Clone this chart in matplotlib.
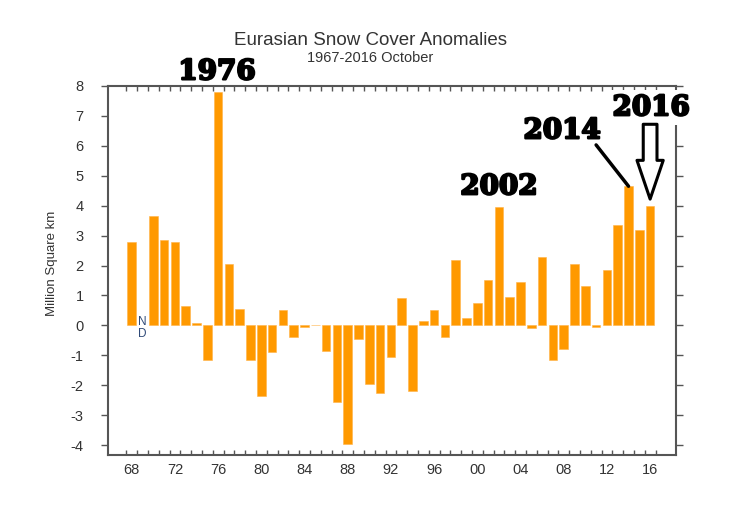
"""
Eurasian snow cover anomalies, October 1967-2016 (annotated).
"""
import matplotlib
matplotlib.use('Agg')
import matplotlib.pyplot as plt
import matplotlib.patheffects as pe
from matplotlib.ticker import FixedLocator, MultipleLocator


# October anomalies (million km^2); None = no data
years = list(range(1968, 2017))
anomaly = [
    2.8, None, 3.65, 2.85, 2.8, 0.65, 0.07, -1.15, 7.8, 2.05,        # 1968-77
    0.55, -1.15, -2.35, -0.9, 0.5, -0.4, -0.05, 0.0, -0.85, -2.55,   # 1978-87
    -3.95, -0.45, -1.95, -2.25, -1.05, 0.9, -2.2, 0.15, 0.5, -0.4,   # 1988-97
    2.2, 0.25, 0.75, 1.5, 3.95, 0.95, 1.45, -0.1, 2.3, -1.15,        # 1998-07
    -0.8, 2.05, 1.3, -0.05, 1.85, 3.35, 4.65, 3.2, 4.0,              # 2008-16
]

tick_years = list(range(1968, 2017, 4))
tick_labels = ['%02d' % (y % 100) for y in tick_years]
y_ticks = list(range(-4, 9))

highlight_years = [1976, 2002, 2014, 2016]

BAR_COLOR = '#ff9900'
TEXT_COLOR = '#333333'
SPINE_COLOR = '#555555'

plt.rcParams['axes.unicode_minus'] = False


def value_of(year):
    return anomaly[years.index(year)]


def plot_snow_cover():
    fig = plt.figure(figsize=(7.54, 5.17), dpi=100)
    ax = fig.add_axes([0.1436, 0.12, 0.7530, 0.7137])

    bar_x = [y for y, v in zip(years, anomaly) if v is not None]
    bar_h = [v for v in anomaly if v is not None]
    ax.bar(bar_x, bar_h, width=0.8, color=BAR_COLOR, edgecolor='#ffb347',
           linewidth=0.4, zorder=2)

    # no-data marker
    nd_year = years[anomaly.index(None)]
    ax.text(nd_year, 0.12, 'N', ha='center', va='center', fontsize=8.5,
            color='#2f4a78', family='Liberation Sans')
    ax.text(nd_year, -0.3, 'D', ha='center', va='center', fontsize=8.5,
            color='#2f4a78', family='Liberation Sans')

    ax.set_xlim(1965.83, 2018.4)
    ax.set_ylim(-4.33, 8)

    # labels sit at year centres, tick marks at year boundaries
    ax.xaxis.set_major_locator(FixedLocator(tick_years))
    ax.set_xticklabels(tick_labels)
    ax.xaxis.set_minor_locator(FixedLocator([y - 0.5 for y in years] + [2016.5]))
    ax.tick_params(axis='x', which='major', length=0, pad=6, labelsize=10.5,
                   labelcolor=TEXT_COLOR)
    ax.tick_params(axis='x', which='minor', direction='in', length=3.8,
                   width=1.0, color=SPINE_COLOR, top=True, bottom=True)

    ax.yaxis.set_major_locator(FixedLocator(y_ticks))
    ax.tick_params(axis='y', which='major', direction='out', length=4.8,
                   width=1.0, color=SPINE_COLOR, right=True, pad=13,
                   labelsize=10.5, labelcolor=TEXT_COLOR)
    ax.yaxis.set_minor_locator(MultipleLocator(100))

    for lbl in ax.get_xticklabels() + ax.get_yticklabels():
        lbl.set_family('Liberation Sans')

    for s in ax.spines.values():
        s.set_color(SPINE_COLOR)
        s.set_linewidth(1.5)

    ax.set_ylabel('Million Square km', fontsize=9.5, color=TEXT_COLOR,
                  family='Liberation Sans')
    ax.yaxis.set_label_coords(-0.088, 0.52)

    fig.text(0.491, 0.922, 'Eurasian Snow Cover Anomalies', ha='center',
             va='center', fontsize=13.5, color=TEXT_COLOR,
             family='Liberation Sans')
    fig.text(0.491, 0.887, '1967-2016 October', ha='center', va='center',
             fontsize=10.5, color=TEXT_COLOR, family='Liberation Sans')

    # big annotations, thickened to look like a heavy display face
    heavy = [pe.withStroke(linewidth=1.6, foreground='black')]
    ann = dict(fontsize=20, fontweight='bold', family='DejaVu Serif',
               color='black', ha='center', va='center', clip_on=False,
               zorder=6, path_effects=heavy)
    ax.text(1975.9, 8.47, str(highlight_years[0]), **ann)
    ax.text(2002.0, 4.63, str(highlight_years[1]), **ann)
    ax.text(2007.85, 6.5, str(highlight_years[2]), **ann)
    ax.text(2016.1, 7.27, str(highlight_years[3]),
            bbox=dict(facecolor='white', edgecolor='none', pad=3), **ann)

    # line pointing at 2014
    ax.annotate('', xy=(2014, value_of(2014)), xytext=(2011.0, 6.03),
                arrowprops=dict(arrowstyle='-', color='black', lw=2.5,
                                shrinkA=0, shrinkB=0), zorder=6)

    # hollow block arrow pointing at 2016
    ax.annotate('', xy=(2016, value_of(2016) + 0.22), xytext=(2016, 6.72),
                arrowprops=dict(arrowstyle='simple,head_length=1.55,head_width=1.05,tail_width=0.55',
                                fc='white', ec='black', lw=2.2,
                                shrinkA=0, shrinkB=0, mutation_scale=18),
                zorder=6)

    plt.savefig('out.png', dpi=100)


if __name__ == '__main__':
    plot_snow_cover()
